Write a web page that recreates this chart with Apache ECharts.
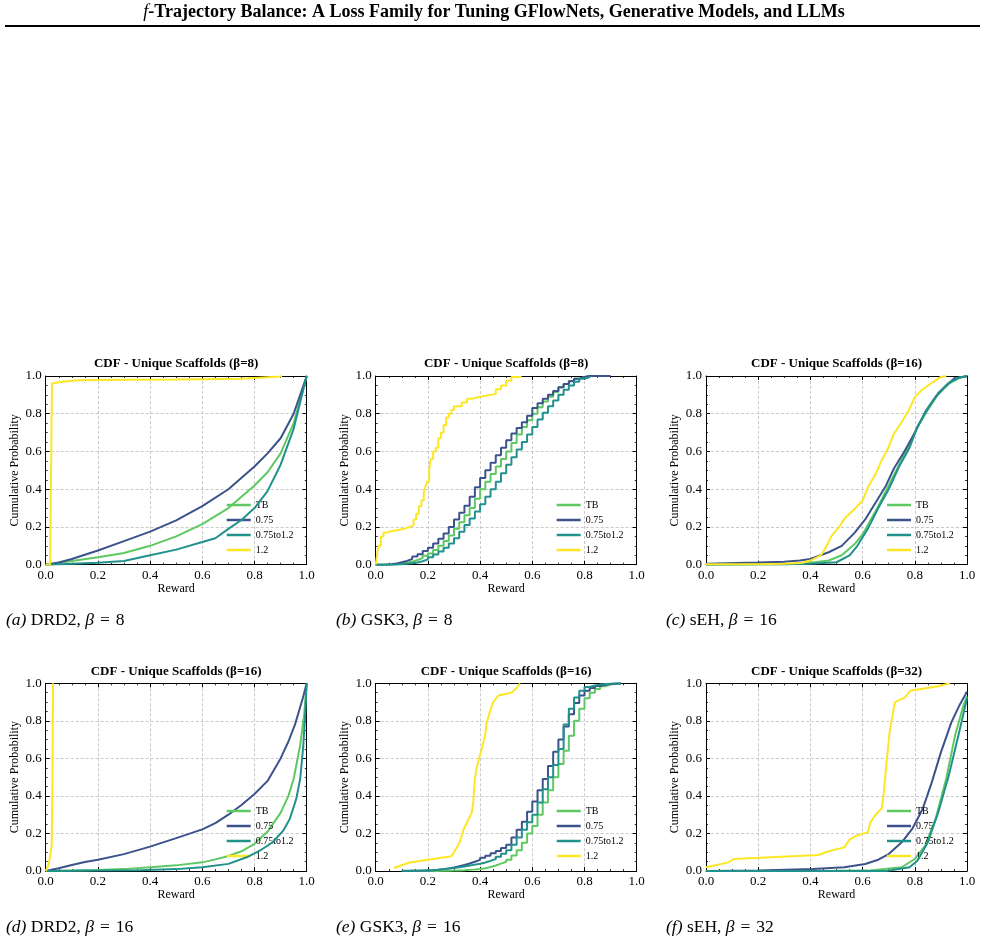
<!DOCTYPE html>
<html>
<head>
<meta charset="utf-8">
<title>CDF - Unique Scaffolds</title>
<script src="https://cdn.jsdelivr.net/npm/echarts@6/dist/echarts.min.js"></script>
<style>
  html, body { margin: 0; padding: 0; background: #fff; }
  #main { width: 985px; height: 942px; }
</style>
</head>
<body>
<div id="main"></div>
<script>
"use strict";

// series names and colours (viridis)
var seriesNames = ["TB", "0.75", "0.75to1.2", "1.2"];
var seriesColors = ["#5ec962", "#3b528b", "#21918c", "#fde725"];

// (a) DRD2, beta=8  -- [reward, cumulative probability]
var drd2B8_tb = [[0,0],[0.1,0.02],[0.2,0.04],[0.3,0.062],[0.4,0.1],[0.5,0.15],[0.6,0.215],[0.7,0.3],[0.8,0.42],[0.85,0.49],[0.9,0.59],[0.95,0.75],[1.0,1.0]];
var drd2B8_075 = [[0,0],[0.05,0.012],[0.1,0.03],[0.2,0.075],[0.3,0.125],[0.4,0.175],[0.5,0.235],[0.6,0.31],[0.7,0.4],[0.8,0.52],[0.85,0.59],[0.9,0.67],[0.95,0.8],[1.0,1.0]];
var drd2B8_mix = [[0,0],[0.1,0.005],[0.2,0.01],[0.3,0.02],[0.4,0.05],[0.5,0.08],[0.6,0.12],[0.65,0.14],[0.7,0.19],[0.75,0.237],[0.8,0.3],[0.85,0.39],[0.9,0.53],[0.95,0.72],[1.0,1.0]];
var drd2B8_12 = [[0,0],[0.017,0.003],[0.024,0.96],[0.06,0.97],[0.125,0.978],[0.3,0.98],[0.5,0.981],[0.75,0.985],[0.8,0.99],[0.9,0.998],[0.905,1.0]];

// (b) GSK3, beta=8
var gskX_b = [0,0.02,0.04,0.06,0.08,0.1,0.12,0.14,0.16,0.18,0.2,0.22,0.24,0.26,0.28,0.3,0.32,0.34,0.36,0.38,0.4,0.42,0.44,0.46,0.48,0.5,0.52,0.54,0.56,0.58,0.6,0.62,0.64,0.66,0.68,0.7,0.72,0.74,0.76,0.78,0.8,0.82];
var gskB8_tb = [0,0,0.001,0.003,0.006,0.01,0.016,0.025,0.035,0.047,0.06,0.078,0.1,0.125,0.155,0.19,0.225,0.262,0.3,0.35,0.4,0.44,0.48,0.52,0.56,0.6,0.645,0.69,0.73,0.765,0.8,0.835,0.865,0.89,0.915,0.94,0.958,0.973,0.986,0.995,1.0,1.0];
var gskB8_075 = [0,0.001,0.003,0.007,0.013,0.02,0.03,0.043,0.056,0.072,0.09,0.112,0.138,0.165,0.2,0.24,0.275,0.312,0.36,0.41,0.46,0.5,0.54,0.58,0.62,0.66,0.695,0.725,0.755,0.79,0.83,0.855,0.88,0.9,0.92,0.94,0.957,0.972,0.985,0.995,1.0,1.0];
var gskB8_mix = [0,0,0,0.001,0.003,0.005,0.008,0.012,0.018,0.028,0.04,0.054,0.07,0.09,0.113,0.14,0.175,0.21,0.245,0.282,0.32,0.36,0.4,0.44,0.485,0.53,0.57,0.61,0.65,0.69,0.73,0.77,0.805,0.84,0.87,0.9,0.927,0.95,0.97,0.985,0.995,1.0];
var gskB8_075tail = [[0.82,1.0],[0.9,1.0]];
var gskB8_12 = [[0,0],[0.005,0.05],[0.01,0.1],[0.02,0.15],[0.03,0.17],[0.04,0.18],[0.07,0.19],[0.11,0.2],[0.13,0.21],[0.145,0.24],[0.155,0.27],[0.165,0.31],[0.175,0.34],[0.184,0.38],[0.19,0.41],[0.197,0.44],[0.205,0.5],[0.21,0.56],[0.22,0.6],[0.23,0.62],[0.24,0.67],[0.25,0.7],[0.26,0.74],[0.27,0.78],[0.28,0.8],[0.29,0.82],[0.3,0.84],[0.33,0.86],[0.35,0.88],[0.37,0.89],[0.4,0.9],[0.44,0.905],[0.46,0.93],[0.48,0.95],[0.5,0.975],[0.52,0.995],[0.555,1.0]];

// (c) sEH, beta=16
var sehB16_tb = [[0,0.001],[0.2,0.002],[0.3,0.003],[0.37,0.005],[0.47,0.022],[0.52,0.05],[0.57,0.11],[0.6,0.16],[0.62,0.21],[0.66,0.31],[0.7,0.42],[0.74,0.53],[0.78,0.64],[0.81,0.73],[0.85,0.82],[0.89,0.905],[0.93,0.958],[0.97,0.99],[1.0,0.997]];
var sehB16_075 = [[0,0.005],[0.2,0.012],[0.3,0.016],[0.36,0.022],[0.4,0.03],[0.47,0.066],[0.52,0.1],[0.57,0.17],[0.61,0.24],[0.65,0.33],[0.69,0.42],[0.72,0.51],[0.76,0.6],[0.8,0.7],[0.84,0.81],[0.88,0.89],[0.92,0.95],[0.95,0.985],[1.0,1.0]];
var sehB16_mix = [[0,0],[0.3,0.002],[0.4,0.005],[0.5,0.013],[0.55,0.049],[0.58,0.1],[0.62,0.19],[0.66,0.3],[0.7,0.4],[0.74,0.52],[0.78,0.62],[0.81,0.73],[0.85,0.83],[0.89,0.91],[0.93,0.963],[0.97,0.992],[1.0,1.0]];
var sehB16_12 = [[0,0.002],[0.2,0.003],[0.3,0.005],[0.37,0.01],[0.4,0.022],[0.44,0.049],[0.46,0.093],[0.48,0.15],[0.51,0.2],[0.53,0.243],[0.57,0.296],[0.6,0.34],[0.62,0.41],[0.65,0.48],[0.67,0.544],[0.7,0.624],[0.72,0.694],[0.75,0.756],[0.78,0.826],[0.8,0.888],[0.83,0.93],[0.87,0.968],[0.9,0.995],[0.92,1.0]];

// (d) DRD2, beta=16
var drd2B16_tb = [[0,0],[0.1,0.002],[0.2,0.005],[0.3,0.01],[0.4,0.02],[0.5,0.03],[0.6,0.046],[0.65,0.062],[0.7,0.08],[0.75,0.105],[0.8,0.145],[0.85,0.21],[0.9,0.31],[0.93,0.4],[0.95,0.49],[0.975,0.67],[0.99,0.83],[1.0,1.0]];
var drd2B16_075 = [[0,0],[0.05,0.015],[0.1,0.032],[0.15,0.048],[0.2,0.06],[0.3,0.09],[0.4,0.13],[0.5,0.175],[0.6,0.222],[0.65,0.255],[0.7,0.3],[0.75,0.352],[0.8,0.41],[0.85,0.48],[0.9,0.6],[0.93,0.69],[0.955,0.78],[0.97,0.85],[0.985,0.92],[1.0,1.0]];
var drd2B16_mix = [[0,0],[0.2,0.002],[0.36,0.004],[0.5,0.01],[0.6,0.02],[0.7,0.038],[0.77,0.073],[0.82,0.108],[0.87,0.153],[0.91,0.215],[0.935,0.277],[0.96,0.384],[0.975,0.49],[0.987,0.668],[0.996,0.88],[1.0,1.0]];
var drd2B16_12 = [[0,0],[0.01,0.03],[0.017,0.08],[0.023,0.135],[0.026,0.49],[0.028,1.0]];

// (e) GSK3, beta=16
var gskX_e = [0.1,0.12,0.14,0.16,0.18,0.2,0.22,0.24,0.26,0.28,0.3,0.32,0.34,0.36,0.38,0.4,0.42,0.44,0.46,0.48,0.5,0.52,0.54,0.56,0.58,0.6,0.62,0.64,0.66,0.68,0.7,0.72,0.74,0.76,0.78,0.8,0.82,0.84,0.86,0.88,0.9,0.92,0.94];
var gskB16_tb = [0,0,0,0,0,0,0,0.001,0.001,0.002,0.003,0.004,0.006,0.008,0.011,0.015,0.021,0.029,0.039,0.049,0.06,0.082,0.11,0.15,0.2,0.24,0.3,0.365,0.43,0.5,0.57,0.64,0.72,0.8,0.865,0.92,0.95,0.97,0.984,0.993,0.998,0.999,1.0];
var gskB16_075 = [0,0.001,0.001,0.002,0.003,0.004,0.007,0.01,0.014,0.019,0.025,0.032,0.04,0.049,0.059,0.07,0.081,0.094,0.107,0.122,0.14,0.178,0.22,0.262,0.315,0.37,0.43,0.49,0.56,0.635,0.7,0.77,0.835,0.895,0.935,0.96,0.975,0.986,0.992,0.996,0.998,0.999,1.0];
var gskB16_mix = [0.001,0.001,0.002,0.003,0.004,0.005,0.007,0.01,0.013,0.016,0.02,0.024,0.029,0.034,0.039,0.045,0.054,0.064,0.076,0.092,0.11,0.14,0.178,0.22,0.26,0.3,0.365,0.435,0.5,0.565,0.65,0.78,0.865,0.925,0.96,0.98,0.988,0.993,0.996,0.998,1.0,1.0,1.0];
var gskB16_12 = [[0.07,0.016],[0.13,0.045],[0.133,0.05],[0.29,0.078],[0.3,0.1],[0.32,0.147],[0.33,0.19],[0.336,0.22],[0.35,0.26],[0.368,0.31],[0.374,0.37],[0.38,0.49],[0.387,0.55],[0.4,0.62],[0.406,0.65],[0.419,0.72],[0.425,0.79],[0.438,0.85],[0.45,0.9],[0.47,0.935],[0.52,0.95],[0.54,0.975],[0.553,1.0]];

// (f) sEH, beta=32
var sehB32_tb = [[0,0],[0.5,0.001],[0.62,0.002],[0.75,0.02],[0.8,0.064],[0.84,0.135],[0.88,0.28],[0.92,0.49],[0.954,0.72],[0.986,0.88],[1.0,0.93]];
var sehB32_075 = [[0,0],[0.2,0.003],[0.41,0.01],[0.53,0.02],[0.61,0.037],[0.66,0.06],[0.7,0.09],[0.75,0.153],[0.79,0.224],[0.83,0.33],[0.865,0.472],[0.9,0.632],[0.94,0.792],[0.97,0.88],[1.0,0.955]];
var sehB32_mix = [[0,0],[0.69,0],[0.78,0.02],[0.81,0.055],[0.85,0.153],[0.89,0.313],[0.93,0.508],[0.97,0.739],[1.0,0.92]];
var sehB32_12 = [[0,0.02],[0.087,0.046],[0.106,0.064],[0.43,0.085],[0.47,0.105],[0.53,0.126],[0.55,0.167],[0.58,0.19],[0.62,0.206],[0.63,0.26],[0.65,0.3],[0.673,0.334],[0.68,0.4],[0.693,0.597],[0.705,0.757],[0.724,0.9],[0.763,0.925],[0.782,0.96],[0.89,0.984],[0.935,1.0]];

var SERIF = '"Liberation Serif", "Times New Roman", "DejaVu Serif", serif';

function zip(xs, ys) {
  return xs.map(function (x, i) { return [x, ys[i]]; });
}

// panel layout: column lefts, row tops
var colLeft = [45.7, 375.7, 706];
var rowTop = [376, 683.3];
var plotW = 261;
var plotH = [188.7, 187.7];

var panels = [
  { title: "CDF - Unique Scaffolds (β=8)", cap: ["(a)", "DRD2, ", "8"],
    lines: [drd2B8_tb, drd2B8_075, drd2B8_mix, drd2B8_12], step: [false, false, false, false] },
  { title: "CDF - Unique Scaffolds (β=8)", cap: ["(b)", "GSK3, ", "8"],
    lines: [zip(gskX_b, gskB8_tb), zip(gskX_b, gskB8_075).concat(gskB8_075tail), zip(gskX_b, gskB8_mix), gskB8_12], step: ["end", "end", "end", "end"] },
  { title: "CDF - Unique Scaffolds (β=16)", cap: ["(c)", "sEH, ", "16"],
    lines: [sehB16_tb, sehB16_075, sehB16_mix, sehB16_12], step: [false, false, false, false] },
  { title: "CDF - Unique Scaffolds (β=16)", cap: ["(d)", "DRD2, ", "16"],
    lines: [drd2B16_tb, drd2B16_075, drd2B16_mix, drd2B16_12], step: [false, false, false, false] },
  { title: "CDF - Unique Scaffolds (β=16)", cap: ["(e)", "GSK3, ", "16"],
    lines: [zip(gskX_e, gskB16_tb), zip(gskX_e, gskB16_075), zip(gskX_e, gskB16_mix), gskB16_12], step: ["end", "end", "end", false] },
  { title: "CDF - Unique Scaffolds (β=32)", cap: ["(f)", "sEH, ", "32"],
    lines: [sehB32_tb, sehB32_075, sehB32_mix, sehB32_12], step: [false, false, false, false] }
];

var grids = [], xAxes = [], yAxes = [], series = [], legends = [];
var graphics = [
  { type: "text", x: 494, y: 12,
    style: { text: "{i|f}{b|-Trajectory Balance: A Loss Family for Tuning GFlowNets, Generative Models, and LLMs}",
      textAlign: "center", textVerticalAlign: "middle", fill: "#000",
      rich: { i: { fontFamily: SERIF, fontStyle: "italic", fontSize: 18 },
              b: { fontFamily: SERIF, fontWeight: "bold", fontSize: 18 } } } },
  { type: "line", shape: { x1: 5, y1: 26, x2: 980, y2: 26 }, style: { stroke: "#000", lineWidth: 2 } }
];

function axisCommon(gi, pos, showLabel) {
  return {
    type: "value", gridIndex: gi, position: pos, min: 0, max: 1, interval: 0.2,
    axisLine: { show: true, onZero: false, lineStyle: { color: "#000", width: 1 } },
    axisTick: { show: true, inside: true, length: 4, lineStyle: { color: "#000", width: 1 } },
    minorTick: { show: true, splitNumber: 4, length: 2, lineStyle: { color: "#000", width: 0.8 } },
    axisLabel: { show: showLabel, margin: 4, color: "#000", fontFamily: SERIF, fontSize: 13,
      formatter: function (v) { return v.toFixed(1); } },
    splitLine: { show: showLabel, lineStyle: { color: "#bdbdbd", type: [3, 2], width: 0.8 } }
  };
}

panels.forEach(function (p, i) {
  var col = i % 3, row = Math.floor(i / 3);
  var left = colLeft[col], top = rowTop[row], h = plotH[row];
  grids.push({ left: left, top: top, width: plotW, height: h, containLabel: false });

  var xb = axisCommon(i, "bottom", true);
  xb.name = "Reward"; xb.nameLocation = "middle"; xb.nameGap = 18;
  xb.nameTextStyle = { fontFamily: SERIF, fontSize: 12, color: "#000" };
  xAxes.push(xb);
  xAxes.push(axisCommon(i, "top", false));

  var yl = axisCommon(i, "left", true);
  yl.name = "Cumulative Probability"; yl.nameLocation = "middle"; yl.nameGap = 25;
  yl.nameTextStyle = { fontFamily: SERIF, fontSize: 12, color: "#000" };
  yAxes.push(yl);
  yAxes.push(axisCommon(i, "right", false));

  p.lines.forEach(function (d, k) {
    series.push({
      name: seriesNames[k], type: "line", xAxisIndex: 2 * i, yAxisIndex: 2 * i,
      data: d, step: p.step[k], symbol: "none", showSymbol: false, smooth: false,
      lineStyle: { color: seriesColors[k], width: 2 }, itemStyle: { color: seriesColors[k] },
      z: 2 + k, animation: false
    });
  });

  // legend rows 15px apart, line icons 24px wide
  legends.push({
    data: seriesNames.map(function (n) { return { name: n, icon: "rect" }; }),
    orient: "vertical", left: left + 181, top: top + (row === 0 ? 121.5 : 120.2),
    itemWidth: 24, itemHeight: 2.5, itemGap: 0, padding: 0, selectedMode: false,
    textStyle: { fontFamily: SERIF, fontSize: 10, color: "#000", lineHeight: 15 }
  });

  graphics.push({ type: "text", x: left + plotW / 2, y: top - 12,
    style: { text: p.title, textAlign: "center", textVerticalAlign: "middle", fill: "#000",
      fontFamily: SERIF, fontWeight: "bold", fontSize: 13 } });

  graphics.push({ type: "text", x: col === 0 ? 6 : (col === 1 ? 336 : 666), y: row === 0 ? 620 : 927,
    style: { text: "{i|" + p.cap[0] + "} " + p.cap[1] + "{i|β}{e|=}" + p.cap[2],
      textAlign: "left", textVerticalAlign: "middle", fill: "#000",
      fontFamily: SERIF, fontSize: 17.5,
      rich: { i: { fontFamily: SERIF, fontStyle: "italic", fontSize: 17.5 },
              e: { fontFamily: SERIF, fontSize: 17.5, padding: [0, 6, 0, 6] } } } });
});

var chart = echarts.init(document.getElementById("main"), null, { renderer: "canvas" });
chart.setOption({
  backgroundColor: "#fff",
  animation: false,
  grid: grids,
  xAxis: xAxes,
  yAxis: yAxes,
  legend: legends,
  series: series,
  graphic: graphics
});
</script>
</body>
</html>
